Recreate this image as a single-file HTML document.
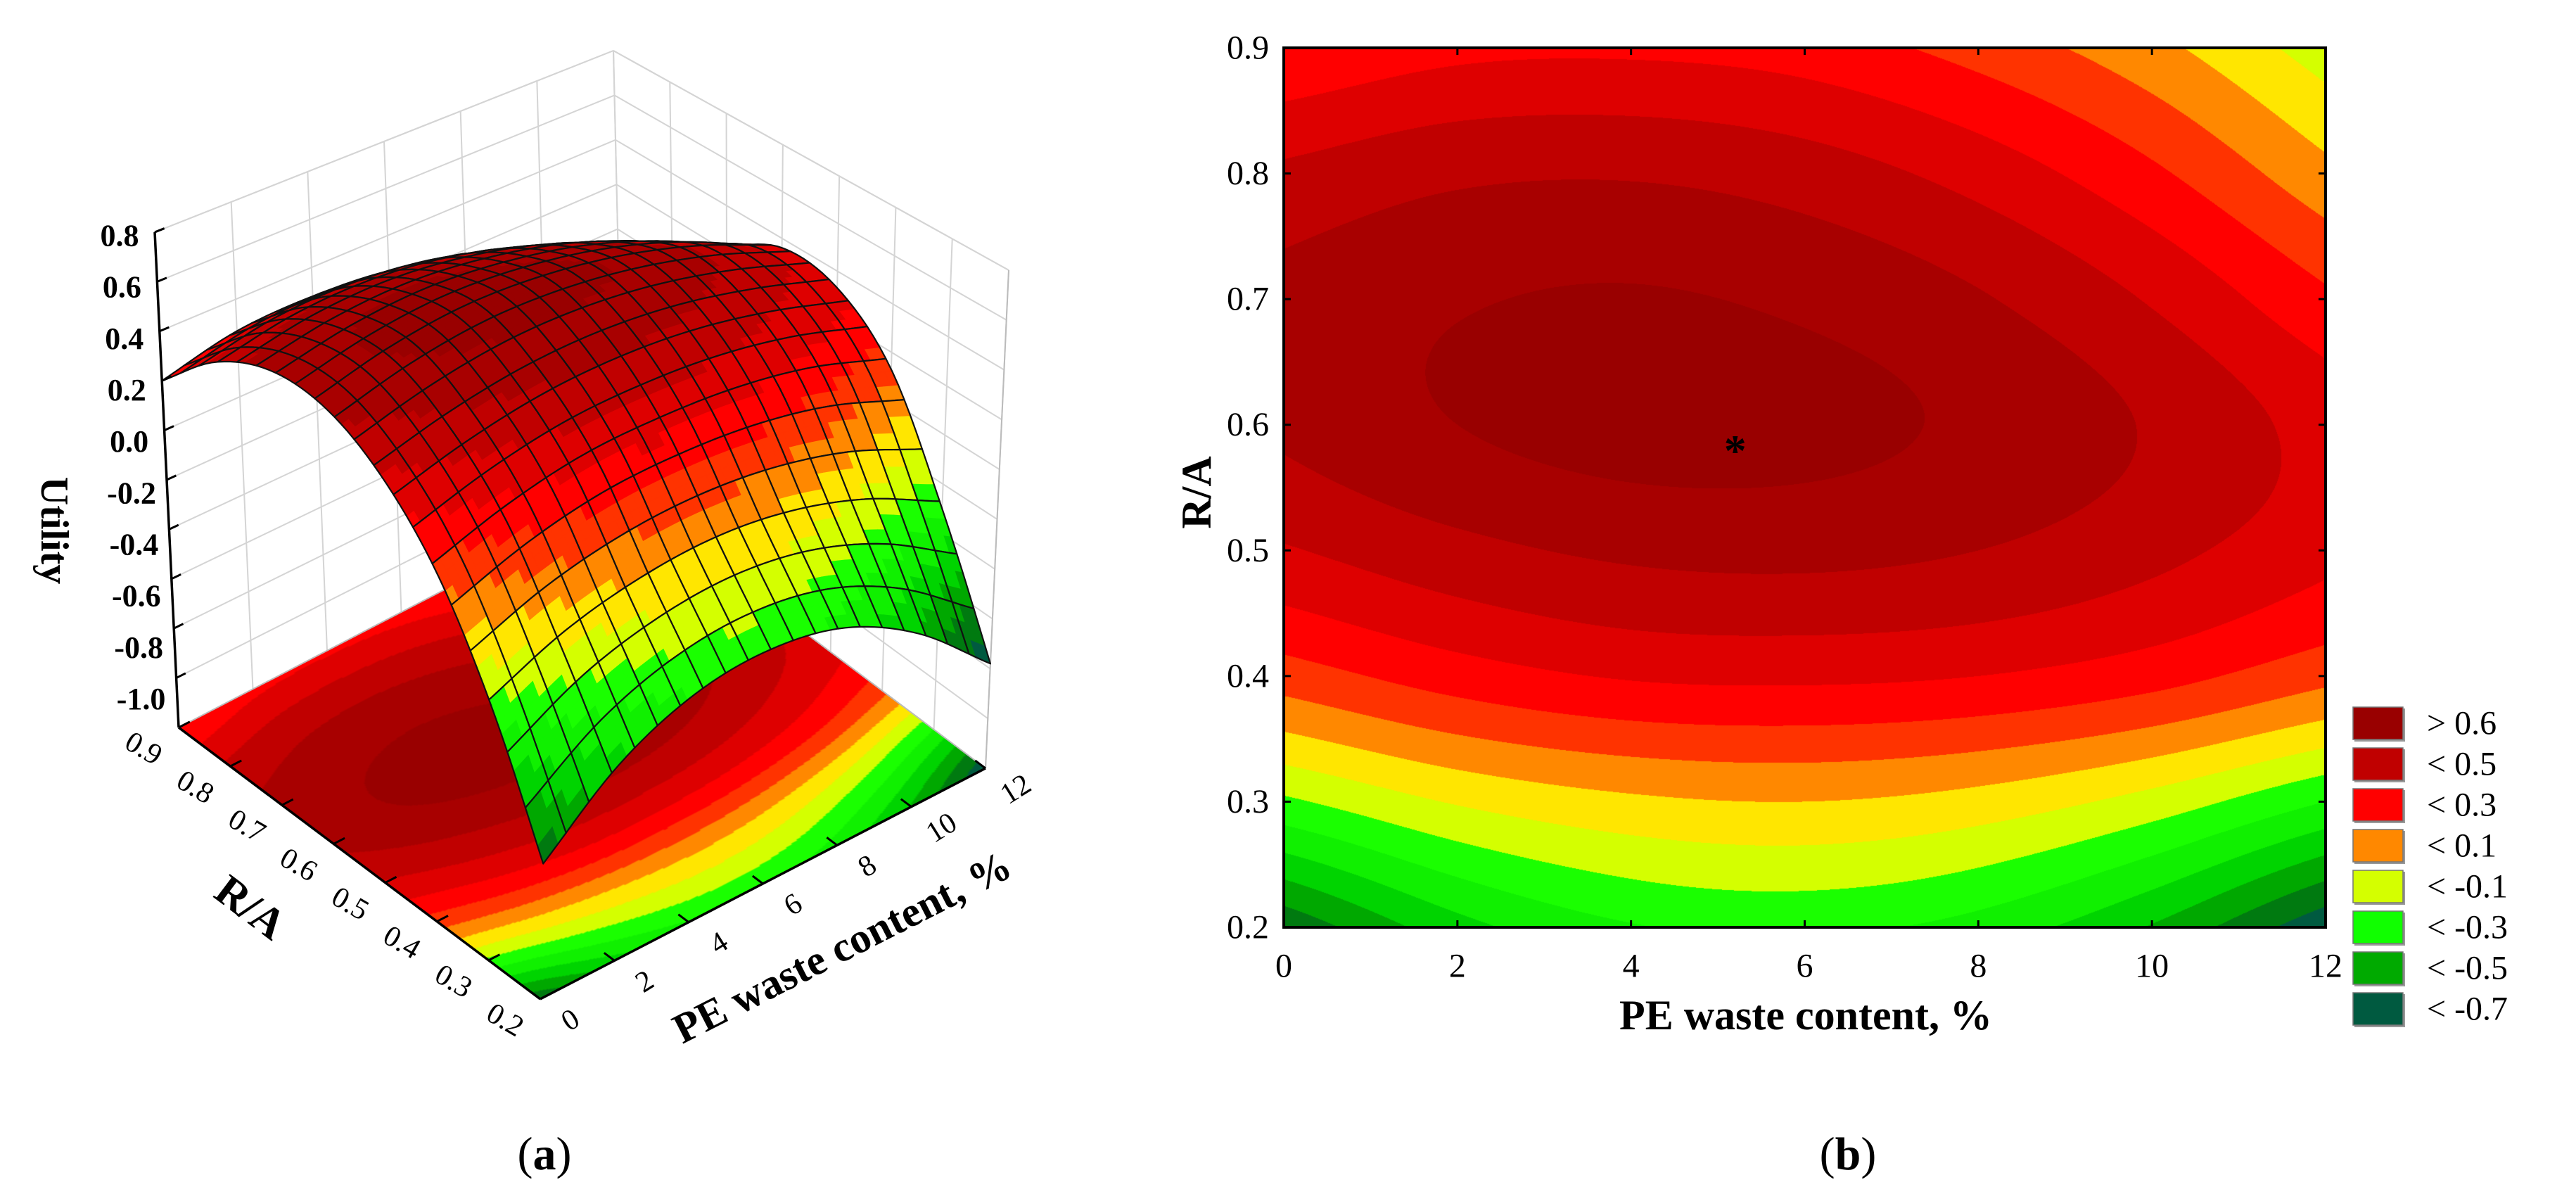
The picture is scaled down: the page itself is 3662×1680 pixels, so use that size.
<!DOCTYPE html>
<html><head><meta charset="utf-8">
<style>
html,body{margin:0;padding:0;background:#fff;}
#root{position:relative;width:3662px;height:1680px;overflow:hidden;background:#fff;font-family:"Liberation Serif",serif;}
canvas,svg{position:absolute;left:0;top:0;}
</style></head>
<body>
<div id="root">
<canvas id="floorCanvas" width="1560" height="1680"></canvas>
<canvas id="contourCanvas" width="1481" height="1250" style="left:1825px;top:68px;"></canvas>
<svg id="svg" width="3662" height="1680" xmlns="http://www.w3.org/2000/svg"></svg>
</div>
<script>
// ---------- data ----------
const peValues = [0, 2, 4, 6, 8, 10, 12];
const raValues = [0.2, 0.3, 0.4, 0.5, 0.6, 0.7, 0.8, 0.9];
const utilityRA02 = [-0.68, -0.44, -0.31, -0.28, -0.34, -0.51, -0.78];
const utilityRA03 = [-0.22, -0.09, -0.02, 0.00, -0.04, -0.14, -0.30];
const utilityRA04 = [0.15, 0.25, 0.31, 0.32, 0.30, 0.24, 0.13];
const utilityRA05 = [0.39, 0.47, 0.52, 0.53, 0.50, 0.43, 0.33];
const utilityRA06 = [0.52, 0.60, 0.64, 0.63, 0.58, 0.49, 0.36];
const utilityRA07 = [0.53, 0.59, 0.61, 0.58, 0.51, 0.39, 0.22];
const utilityRA08 = [0.42, 0.48, 0.49, 0.45, 0.36, 0.22, 0.03];
const utilityRA09 = [0.20, 0.27, 0.28, 0.25, 0.16, 0.03, -0.15];
const utilityGrid = [utilityRA02, utilityRA03, utilityRA04, utilityRA05, utilityRA06, utilityRA07, utilityRA08, utilityRA09];
const levelEdges = [0.6, 0.5, 0.4, 0.3, 0.2, 0.1, 0.0, -0.1, -0.2, -0.3, -0.4, -0.5, -0.6, -0.7];
const levelColors = ['#990000','#a80000','#c00000','#de0000','#ff0000','#ff3300','#ff8800','#ffe600','#d4ff00','#1aff00','#10f000','#00d400','#00a800','#007a10','#005a40'];
const legendLabels = ['> 0.6','< 0.5','< 0.3','< 0.1','< -0.1','< -0.3','< -0.5','< -0.7'];
const legendColors = ['#990000','#c00000','#ff0000','#ff8800','#d4ff00','#10ff00','#00aa00','#005a40'];
const xTicks = [0, 2, 4, 6, 8, 10, 12];
const yTicks = [0.2, 0.3, 0.4, 0.5, 0.6, 0.7, 0.8, 0.9];
const zTicks = [-1.0, -0.8, -0.6, -0.4, -0.2, 0.0, 0.2, 0.4, 0.6, 0.8];
const optimumPoint = [5.2, 0.585];

// ---------- interpolation ----------
function gridAt(j, i) {
  const nj = utilityGrid.length, ni = peValues.length;
  if (j < 0) return 2 * gridAt(0, i) - gridAt(1, i);
  if (j >= nj) return 2 * gridAt(nj - 1, i) - gridAt(nj - 2, i);
  if (i < 0) return 2 * utilityGrid[j][0] - utilityGrid[j][1];
  if (i >= ni) return 2 * utilityGrid[j][ni - 1] - utilityGrid[j][ni - 2];
  return utilityGrid[j][i];
}
function cr(p0, p1, p2, p3, t) {
  return 0.5 * (2 * p1 + (-p0 + p2) * t + (2 * p0 - 5 * p1 + 4 * p2 - p3) * t * t + (-p0 + 3 * p1 - 3 * p2 + p3) * t * t * t);
}
const xStep = peValues[1] - peValues[0], rStep = raValues[1] - raValues[0];
function utility(x, r) {
  let fi = (x - peValues[0]) / xStep, fj = (r - raValues[0]) / rStep;
  let i = Math.min(Math.max(Math.floor(fi), 0), peValues.length - 2);
  let j = Math.min(Math.max(Math.floor(fj), 0), raValues.length - 2);
  const t = fi - i, s = fj - j;
  const rows = [];
  for (let jj = j - 1; jj <= j + 2; jj++) {
    rows.push(cr(gridAt(jj, i - 1), gridAt(jj, i), gridAt(jj, i + 1), gridAt(jj, i + 2), t));
  }
  return cr(rows[0], rows[1], rows[2], rows[3], s);
}
function bandColor(z) {
  for (let k = 0; k < levelEdges.length; k++) if (z > levelEdges[k]) return levelColors[k];
  return levelColors[levelColors.length - 1];
}
function hexRgb(h) { return [parseInt(h.substr(1, 2), 16), parseInt(h.substr(3, 2), 16), parseInt(h.substr(5, 2), 16)]; }
const levelRgb = levelColors.map(hexRgb);
function bandRgb(z) {
  for (let k = 0; k < levelEdges.length; k++) if (z > levelEdges[k]) return levelRgb[k];
  return levelRgb[levelRgb.length - 1];
}
const xMin = xTicks[0], xMax = xTicks[xTicks.length - 1];
const rMin = yTicks[0], rMax = yTicks[yTicks.length - 1];

function renderField(ctx, W, H) {
  const img = ctx.createImageData(W, H);
  for (let py = 0; py < H; py++) {
    const r = rMax - (py + 0.5) / H * (rMax - rMin);
    for (let px = 0; px < W; px++) {
      const x = xMin + (px + 0.5) / W * (xMax - xMin);
      const c = bandRgb(utility(x, r));
      const o = (py * W + px) * 4;
      img.data[o] = c[0]; img.data[o + 1] = c[1]; img.data[o + 2] = c[2]; img.data[o + 3] = 255;
    }
  }
  ctx.putImageData(img, 0, 0);
}

const NS = 'http://www.w3.org/2000/svg';
const svg = document.getElementById('svg');
function el(tag, attrs, parent) {
  const e = document.createElementNS(NS, tag);
  for (const k in attrs) e.setAttribute(k, attrs[k]);
  (parent || svg).appendChild(e);
  return e;
}
function txt(str, x, y, size, opts, parent) {
  opts = opts || {};
  const t = el('text', {x: 0, y: 0, 'font-size': size, 'font-family': '"Liberation Serif", serif',
    'text-anchor': opts.anchor || 'middle', 'dominant-baseline': 'central',
    'font-weight': opts.bold ? 'bold' : 'normal', fill: '#000',
    transform: 'translate(' + x + ',' + y + ') rotate(' + (opts.rot || 0) + ')'}, parent);
  t.textContent = str;
  return t;
}

// ---------- (b) contour ----------
const PX0 = 1825, PX1 = 3306, PY0 = 68, PY1 = 1318;
function sx(x) { return PX0 + (x - xMin) / (xMax - xMin) * (PX1 - PX0); }
function sy(r) { return PY1 - (r - rMin) / (rMax - rMin) * (PY1 - PY0); }
renderField(document.getElementById('contourCanvas').getContext('2d'), 1481, 1250);

const gB = el('g', {});


const frame = el('rect', {x: PX0, y: PY0, width: PX1 - PX0, height: PY1 - PY0, fill: 'none', stroke: '#000', 'stroke-width': 4}, gB);


xTicks.forEach(v => {
  el('line', {x1: sx(v), y1: PY1, x2: sx(v), y2: PY1 - 10, stroke: '#000', 'stroke-width': 3}, gB);
  el('line', {x1: sx(v), y1: PY0, x2: sx(v), y2: PY0 + 10, stroke: '#000', 'stroke-width': 3}, gB);
  const t = txt(String(v), sx(v), 1373, 48, {}, gB);
  
  
});
yTicks.forEach(v => {
  el('line', {x1: PX0, y1: sy(v), x2: PX0 + 10, y2: sy(v), stroke: '#000', 'stroke-width': 3}, gB);
  el('line', {x1: PX1, y1: sy(v), x2: PX1 - 10, y2: sy(v), stroke: '#000', 'stroke-width': 3}, gB);
  const t = txt(v.toFixed(1), 1804, sy(v), 48, {anchor: 'end'}, gB);
  
  
});
const xt = txt('PE waste content, %', 2567, 1443, 60, {bold: true}, gB);


const yt = txt('R/A', 1701, 700, 60, {bold: true, rot: -90}, gB);


const star = txt('*', sx(optimumPoint[0]), sy(optimumPoint[1]) + 10, 64, {bold: true}, gB);


legendLabels.forEach((lab, k) => {
  const y = 1005 + k * 58;
  const g = el('g', {}, gB);
  
  
  el('rect', {x: 3347, y: y + 2, width: 72, height: 47, fill: '#999'}, g);
  el('rect', {x: 3345, y: y, width: 71, height: 46, fill: legendColors[k], stroke: '#777', 'stroke-width': 1.5}, g);
  txt(lab, 3450, y + 23, 48, {anchor: 'start'}, g);
});
const capB = el('text', {x: 2627, y: 1640, 'font-size': 66, 'text-anchor': 'middle', 'dominant-baseline': 'central', 'font-family': '"Liberation Serif", serif'});
capB.innerHTML = '(<tspan font-weight="bold">b</tspan>)';



// ---------- (a) 3D surface ----------
const F = [768, 1420], RC = [1401, 1092], LC = [254, 1034];
const VF = [8, -370], VR = [16.5, -354], VL = [-17, -352], VB = [-7.5, -317];
const zFloor = -1.2, zTop = 0.8;
function proj(x, r, z) {
  const u = (x - xMin) / (xMax - xMin), v = (r - rMin) / (rMax - rMin);
  const bx = F[0] + u * (RC[0] - F[0]) + v * (LC[0] - F[0]);
  const by = F[1] + u * (RC[1] - F[1]) + v * (LC[1] - F[1]);
  const w00 = (1 - u) * (1 - v), w10 = u * (1 - v), w01 = (1 - u) * v, w11 = u * v;
  const vx = w00 * VF[0] + w10 * VR[0] + w01 * VL[0] + w11 * VB[0];
  const vy = w00 * VF[1] + w10 * VR[1] + w01 * VL[1] + w11 * VB[1];
  const h = z - zFloor;
  return [bx + h * vx, by + h * vy];
}
// floor contour via affine transform
(function () {
  const W = 360, H = 360;
  const off = document.createElement('canvas');
  off.width = W; off.height = H;
  const octx = off.getContext('2d');
  // offscreen: px -> x, py -> r (top = rMin so that v increases with py)
  const img = octx.createImageData(W, H);
  for (let py = 0; py < H; py++) {
    const r = rMin + (py + 0.5) / H * (rMax - rMin);
    for (let px = 0; px < W; px++) {
      const x = xMin + (px + 0.5) / W * (xMax - xMin);
      const c = bandRgb(utility(x, r));
      const o = (py * W + px) * 4;
      img.data[o] = c[0]; img.data[o + 1] = c[1]; img.data[o + 2] = c[2]; img.data[o + 3] = 255;
    }
  }
  octx.putImageData(img, 0, 0);
  const ctx = document.getElementById('floorCanvas').getContext('2d');
  ctx.setTransform((RC[0] - F[0]) / W, (RC[1] - F[1]) / W, (LC[0] - F[0]) / H, (LC[1] - F[1]) / H, F[0], F[1]);
  ctx.drawImage(off, 0, 0);
})();

const gA = el('g', {});


function line3(p, q, stroke, w, parent) {
  const a = proj(p[0], p[1], p[2]), b = proj(q[0], q[1], q[2]);
  return el('line', {x1: a[0], y1: a[1], x2: b[0], y2: b[1], stroke: stroke, 'stroke-width': w}, parent || gA);
}
const grid = el('g', {}, gA);


const GC = '#d4d4d4';
zTicks.concat([zTop]).forEach(z => {
  line3([xMin, rMax, z], [xMax, rMax, z], GC, 2, grid);
  line3([xMax, rMin, z], [xMax, rMax, z], GC, 2, grid);
});
xTicks.forEach(x => line3([x, rMax, zFloor], [x, rMax, zTop], GC, 2, grid));
yTicks.forEach(r => line3([xMax, r, zFloor], [xMax, r, zTop], GC, 2, grid));
line3([xMin, rMax, zFloor], [xMax, rMax, zFloor], '#bbb', 2, grid);
line3([xMax, rMin, zFloor], [xMax, rMax, zFloor], '#bbb', 2, grid);
line3([xMax, rMin, zFloor], [xMax, rMin, zTop], '#bbb', 2, grid);

// surface
const surf = el('g', {}, gA);


const N = 20, SUB = 3;
const cells = [];
for (let i = 0; i < N; i++) for (let j = 0; j < N; j++) cells.push([i, j, (i + j)]);
cells.sort((a, b) => b[2] - a[2]);
function pt(x, r) { return proj(x, r, utility(x, r)); }
cells.forEach(c => {
  const x0 = xMin + c[0] / N * (xMax - xMin), x1 = xMin + (c[0] + 1) / N * (xMax - xMin);
  const r0 = rMin + c[1] / N * (rMax - rMin), r1 = rMin + (c[1] + 1) / N * (rMax - rMin);
  const g = el('g', {}, surf);
  for (let a = 0; a < SUB; a++) for (let b = 0; b < SUB; b++) {
    const xa = x0 + (x1 - x0) * a / SUB, xb = x0 + (x1 - x0) * (a + 1) / SUB;
    const ra = r0 + (r1 - r0) * b / SUB, rb = r0 + (r1 - r0) * (b + 1) / SUB;
    const col = bandColor(utility((xa + xb) / 2, (ra + rb) / 2));
    const P = [pt(xa, ra), pt(xb, ra), pt(xb, rb), pt(xa, rb)];
    el('polygon', {points: P.map(p => p[0].toFixed(1) + ',' + p[1].toFixed(1)).join(' '), fill: col, stroke: col, 'stroke-width': 1}, g);
  }
  const Q = [];
  for (let k = 0; k <= SUB; k++) Q.push(pt(x0 + (x1 - x0) * k / SUB, r0));
  for (let k = 1; k <= SUB; k++) Q.push(pt(x1, r0 + (r1 - r0) * k / SUB));
  for (let k = SUB - 1; k >= 0; k--) Q.push(pt(x0 + (x1 - x0) * k / SUB, r1));
  for (let k = SUB - 1; k >= 1; k--) Q.push(pt(x0, r0 + (r1 - r0) * k / SUB));
  el('polygon', {points: Q.map(p => p[0].toFixed(1) + ',' + p[1].toFixed(1)).join(' '), fill: 'none', stroke: '#111', 'stroke-width': 2.2, 'stroke-linejoin': 'round'}, g);
});

// axes
const ax = el('g', {}, gA);


line3([xMin, rMax, zFloor], [xMin, rMax, zTop], '#000', 3.5, ax);
line3([xMin, rMin, zFloor], [xMin, rMax, zFloor], '#000', 3.5, ax);
line3([xMin, rMin, zFloor], [xMax, rMin, zFloor], '#000', 3.5, ax);
zTicks.concat([zTop]).forEach(z => {
  line3([xMin, rMax, z], [xMin + 0.25, rMax, z], '#000', 3, ax);
});
zTicks.forEach((z, k) => {
  const p = proj(xMin, rMax, z);
  const f = (z - zTop) / (zTicks[0] - zTop);
  const t = txt(z.toFixed(1), p[0] - 50, p[1] + 5 + 25 * f, 44, {bold: true}, ax);
  
  
});
yTicks.forEach(r => {
  line3([xMin, r, zFloor], [xMin + 0.3, r, zFloor], '#000', 3, ax);
  const p = proj(xMin, r, zFloor);
  const t = txt(r.toFixed(1), p[0] - 50, p[1] + 30, 42, {rot: 30}, ax);
  
  
});
xTicks.forEach(x => {
  line3([x, rMin, zFloor], [x, rMin + 0.02, zFloor], '#000', 3, ax);
  const p = proj(x, rMin, zFloor);
  const t = txt(String(x), p[0] + 43, p[1] + 30, 42, {rot: -32}, ax);
  
  
});
const ut = txt('Utility', 77, 754, 56, {bold: true, rot: 90}, gA);


const rt = txt('R/A', 356, 1290, 62, {bold: true, rot: 37}, gA);


const pt3 = txt('PE waste content, %', 1197, 1346, 60, {bold: true, rot: -27}, gA);


const capA = el('text', {x: 774, y: 1640, 'font-size': 66, 'text-anchor': 'middle', 'dominant-baseline': 'central', 'font-family': '"Liberation Serif", serif'});
capA.innerHTML = '(<tspan font-weight="bold">a</tspan>)';


</script>
</body></html>
